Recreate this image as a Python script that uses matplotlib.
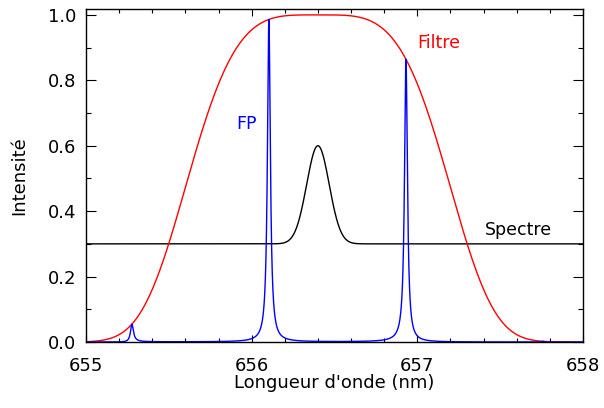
import numpy as np
import matplotlib
matplotlib.use('Agg')
import matplotlib.pyplot as plt
from matplotlib.ticker import MultipleLocator

# values
wl_range = [655.0, 658.0]
y_range = [0.0, 1.018]

filtre_centre = 656.4   # nm
filtre_largeur = 0.86   # nm
filtre_ordre = 4

fp_pics = [655.276, 656.104, 656.931]  # transmission peaks of the Fabry-Perot
fp_finesse = 39.0

spectre_fond = 0.3
spectre_amp = 0.3
spectre_centre = 656.4
spectre_sigma = 0.068

x_ticks = [655, 656, 657, 658]
y_ticks = [0.0, 0.2, 0.4, 0.6, 0.8, 1.0]

# curves
wl = np.linspace(wl_range[0], wl_range[1], 8000)
filtre = np.exp(-(np.abs(wl - filtre_centre) / filtre_largeur) ** filtre_ordre)
isl = (fp_pics[-1] - fp_pics[0]) / (len(fp_pics) - 1)
coef = (2 * fp_finesse / np.pi) ** 2
airy = 1.0 / (1.0 + coef * np.sin(np.pi * (wl - fp_pics[1]) / isl) ** 2)
fp = filtre * airy
spectre = spectre_fond + spectre_amp * np.exp(-0.5 * ((wl - spectre_centre) / spectre_sigma) ** 2)

plt.rcParams['font.family'] = ['DejaVu Sans']
fig = plt.figure(figsize=(6.04, 4.08), dpi=100)
ax = fig.add_axes([86 / 604, 1 - 342 / 408, (583 - 86) / 604, (342 - 9) / 408])

ax.plot(wl, spectre, color='black', lw=1.0)
ax.plot(wl, filtre, color='#ff0000', lw=1.0)
ax.plot(wl, fp, color='#0000ff', lw=1.0)

ax.text(657.0, 0.914, 'Filtre', color='#ff0000', fontsize=12.5, va='center', ha='left')
ax.text(655.905, 0.666, 'FP', color='#0000ff', fontsize=12.5, va='center', ha='left')
ax.text(657.41, 0.342, 'Spectre', color='black', fontsize=12.5, va='center', ha='left')

ax.set_xlim(*wl_range)
ax.set_ylim(*y_range)
ax.set_xticks(x_ticks)
ax.set_yticks(y_ticks)
ax.set_yticklabels(['%.1f' % v for v in y_ticks])
ax.xaxis.set_minor_locator(MultipleLocator(0.2))
ax.yaxis.set_minor_locator(MultipleLocator(0.1))
ax.tick_params(axis='both', which='both', direction='in', top=True, right=True,
               labelsize=13, colors='black', width=0.8)
ax.tick_params(axis='x', which='major', length=4.8, pad=11)
ax.tick_params(axis='x', which='minor', length=2.6)
ax.tick_params(axis='y', which='major', length=7.2, pad=7)
ax.tick_params(axis='y', which='minor', length=3.8)
for s in ax.spines.values():
    s.set_linewidth(1.0)

ax.set_xlabel("Longueur d'onde (nm)", fontsize=13, labelpad=-1)
ax.set_ylabel('Intensité', fontsize=13, labelpad=14)

fig.savefig('out.png', dpi=100)
